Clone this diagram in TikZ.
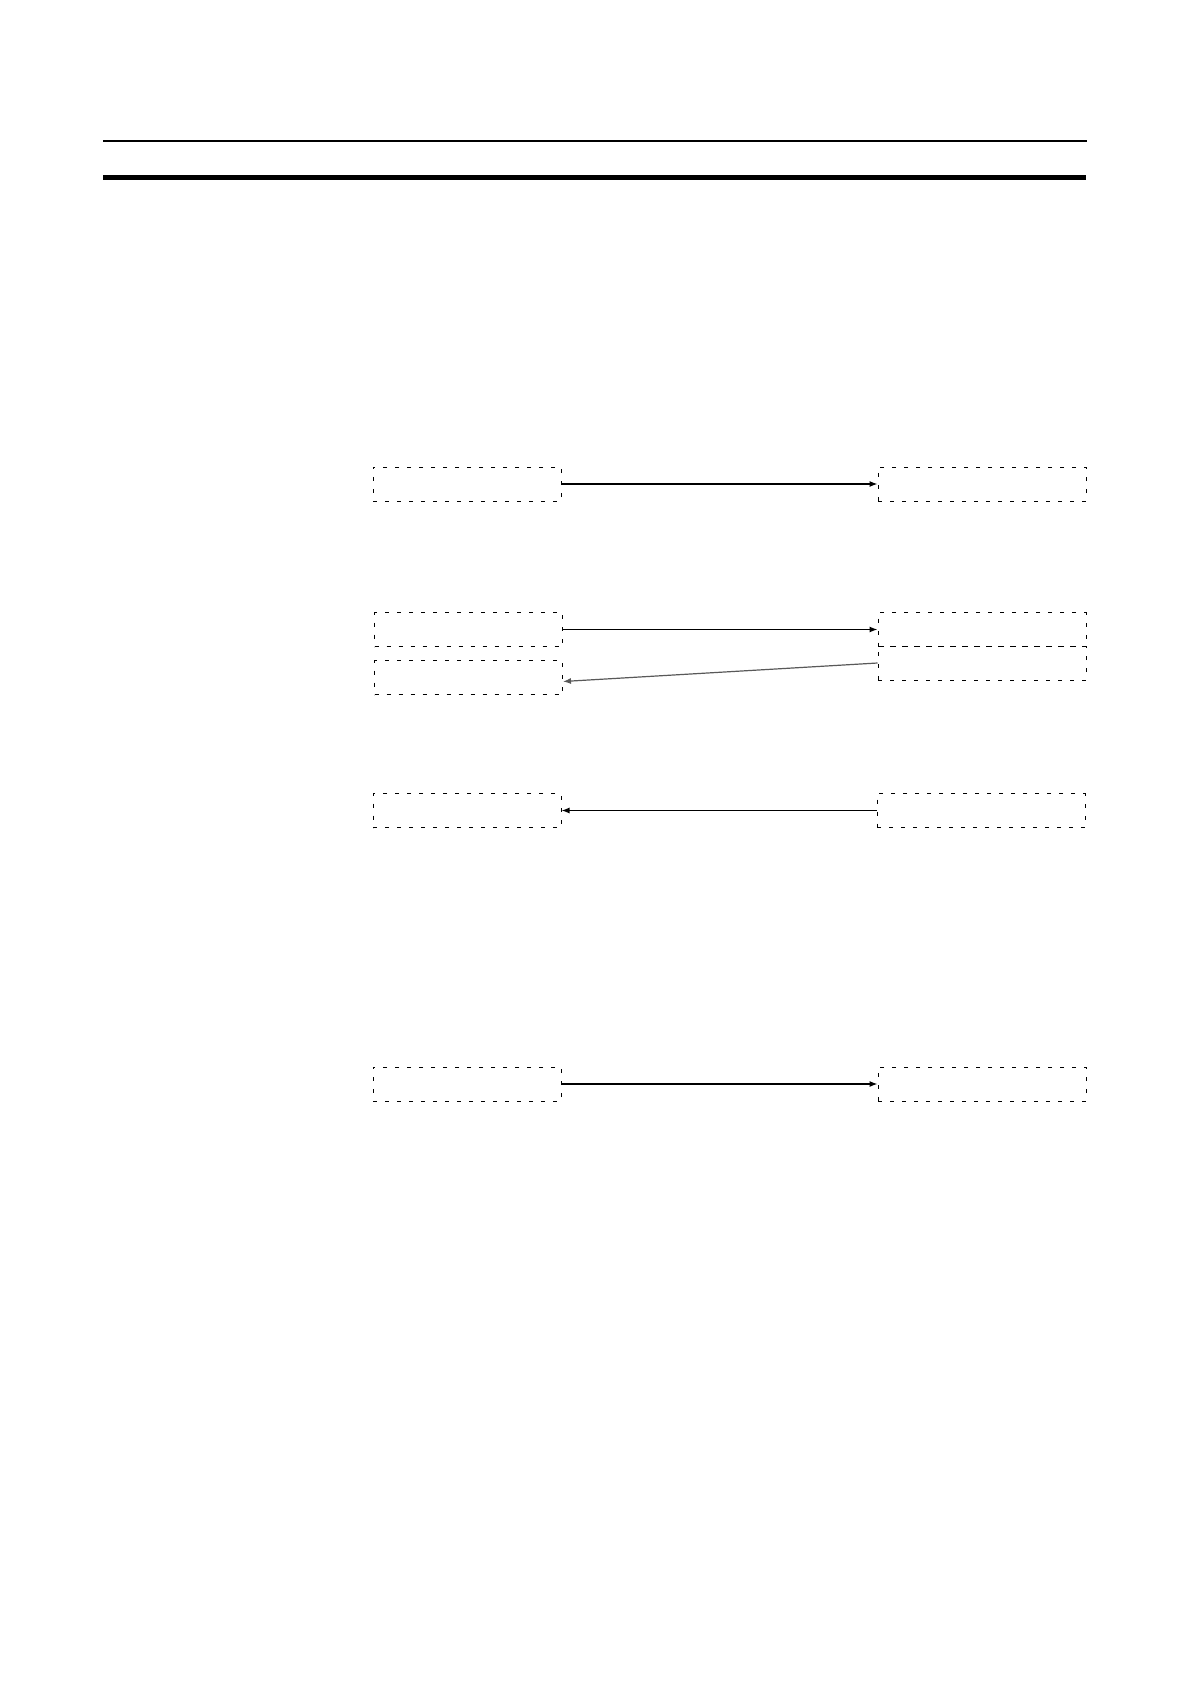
\documentclass[tikz,border=0pt]{standalone}
\usetikzlibrary{arrows.meta}
\tikzset{
  fld/.style={draw, dash pattern=on 2pt off 4pt, line width=0.5pt, minimum height=17pt, inner sep=0pt},
  fldl/.style={fld, minimum width=94pt},
  fldr/.style={fld, minimum width=104pt},
  xfer/.style={-{Latex[length=4pt,width=3pt]}, line width=0.6pt},
}
\begin{document}
\begin{tikzpicture}[x=0.5pt,y=-0.5pt]
  \useasboundingbox (0,0) rectangle (1190,1684);
  \def\xl{467} \def\xr{982}
  % header rules
  \draw[line width=1.2pt] (103,141)--(1087,141);
  \draw[line width=2.5pt] (103,178)--(1086,178);

  % first transfer
  \node[fldl] (srcA) at (\xl,484) {};
  \node[fldr] (dstA) at (\xr,484) {};
  \draw[xfer] (srcA.east) -- (dstA.west);

  % two words each way
  \node[fldl] (srcB) at (\xl+1.5,629.5) {};
  \node[fldl] (srcC) at (\xl+1.5,677.5) {};
  \node[fldr] (dstB) at (\xr,629.5) {};
  \node[fldr] (dstC) at (\xr,663) {};
  \draw[xfer] (srcB.east) -- (dstB.west);
  \draw[xfer, black!65] (dstC.west) -- ([yshift=-2pt]srcC.east);

  % back transfer
  \node[fldl] (srcD) at (\xl,810.5) {};
  \node[fldr] (dstD) at (\xr-1,810.5) {};
  \draw[xfer] (dstD.west) -- (srcD.east);

  % last transfer
  \node[fldl] (srcE) at (\xl,1084) {};
  \node[fldr] (dstE) at (\xr,1084) {};
  \draw[xfer] (srcE.east) -- (dstE.west);
\end{tikzpicture}
\end{document}
